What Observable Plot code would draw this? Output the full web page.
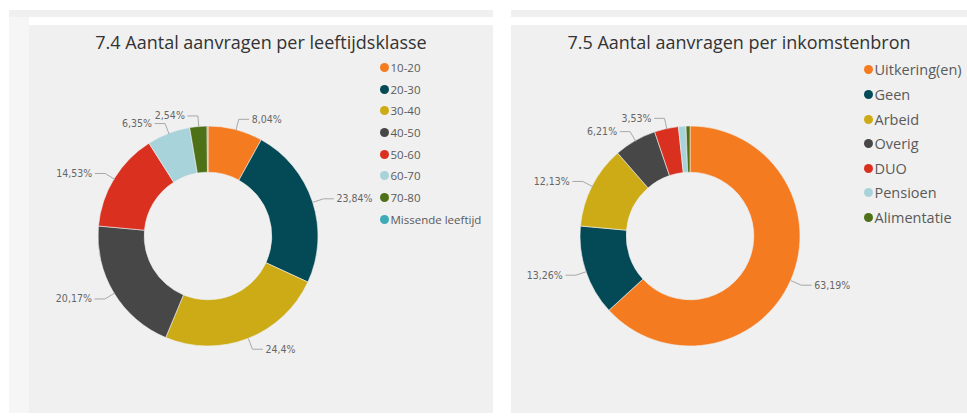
<!DOCTYPE html>
<html>
<head>
<meta charset="utf-8">
<script src="https://cdn.jsdelivr.net/npm/d3@7"></script>
<script src="https://cdn.jsdelivr.net/npm/@observablehq/plot@0.6"></script>
<style>
  html, body { margin: 0; padding: 0; background: #ffffff; }
  body { width: 967px; height: 417px; position: relative; overflow: hidden; font-family: "Open Sans", "Noto Sans", sans-serif; }
  .strip { position: absolute; }
  .panel { position: absolute; background: #f0f0f0; overflow: hidden; }
  .title { position: absolute; left: 0; top: 0; width: 100%; height: 33px; text-align: center; font-size: 18px; line-height: 33px; color: #333; padding-top: 1px; }
  .plotbox { position: absolute; left: 0; top: 33px; }
  .legend { position: absolute; color: #5a5a5a; }
  .legend .row { display: flex; align-items: center; white-space: nowrap; }
  .legend .dot { border-radius: 50%; flex: none; }
</style>
</head>
<body>
<div class="strip" style="left:9px;top:10px;width:484px;height:7px;background:#f0f0f0"></div>
<div class="strip" style="left:9px;top:17px;width:20px;height:396px;background:#f6f6f6"></div>
<div class="strip" style="left:511px;top:10px;width:456px;height:7px;background:#f0f0f0"></div>
<div class="panel" id="left" style="left:29px;top:25px;width:464px;height:388px"></div>
<div class="panel" id="right" style="left:511px;top:25px;width:456px;height:388px"></div>
<script>
// ---- data ----
const leeftijdTitle = "7.4 Aantal aanvragen per leeftijdsklasse";
const leeftijdCategories = ["10-20", "20-30", "30-40", "40-50", "50-60", "60-70", "70-80", "Missende leeftijd"];
const leeftijdValues = [8.04, 23.84, 24.4, 20.17, 14.53, 6.35, 2.54, 0.13];
const leeftijdColors = ["#f47b20", "#034a56", "#cdab16", "#474747", "#d9301f", "#a9d3da", "#4e7118", "#3eaab6"];

const inkomenTitle = "7.5 Aantal aanvragen per inkomstenbron";
const inkomenCategories = ["Uitkering(en)", "Geen", "Arbeid", "Overig", "DUO", "Pensioen", "Alimentatie"];
const inkomenValues = [63.19, 13.26, 12.13, 6.21, 3.53, 1.1, 0.58];
const inkomenColors = ["#f47b20", "#034a56", "#cdab16", "#474747", "#d9301f", "#a9d3da", "#4e7118"];

const fmt = v => String(v).replace(".", ",") + "%";

function donutPanel(el, {title, categories, values, colors, width, legend}) {
  const panel = d3.select(el);
  panel.append("div").attr("class", "title").text(title);

  const R = 110, innerRatio = 0.58, cx = 179, cy = 178, H = 355;
  const total = d3.sum(values);
  const rows = categories.map((c, i) => ({category: c, value: values[i], color: colors[i]}));
  const pie = d3.pie().value(d => d.value).sort(null)(rows);
  pie.forEach(p => { p.mid = (p.startAngle + p.endAngle) / 2; });

  // leader lines & labels (in scale units, radius = 1)
  const labelled = pie.filter(p => p.data.value / total > 0.02);
  const leaders = [];
  const labels = [];
  const hx = 10 / R;
  labelled.forEach(p => {
    const s = Math.sin(p.mid), c = Math.cos(p.mid);
    const side = s >= 0 ? 1 : -1;
    const x1 = s * 1.0, y1 = c * 1.0;
    const x2 = s * 1.1, y2 = c * 1.1;
    const x3 = x2 + side * hx;
    leaders.push({k: p.data.category, x: x1, y: y1});
    leaders.push({k: p.data.category, x: x2, y: y2});
    leaders.push({k: p.data.category, x: x3, y: y2});
    labels.push({x: x3, y: y2, text: fmt(p.data.value), anchor: side > 0 ? "start" : "end"});
  });

  const arcs = (index, scales, values, dimensions, context) => {
    const X = scales.x, Y = scales.y;
    const x0 = X(0), y0 = Y(0), r = X(1) - X(0);
    const arc = d3.arc().innerRadius(r * innerRatio).outerRadius(r);
    const g = d3.create("svg:g").attr("transform", `translate(${x0},${y0})`);
    g.selectAll("path").data(pie).join("path")
      .attr("d", arc)
      .attr("fill", d => d.data.color)
      .attr("stroke", "#f0f0f0")
      .attr("stroke-width", 0.6);
    return g.node();
  };

  const labelFont = "'DejaVu Sans Condensed', 'DejaVu Sans', sans-serif";
  const chart = Plot.plot({
    width, height: H,
    style: {background: "transparent", overflow: "visible"},
    x: {domain: [-1, 1], range: [cx - R, cx + R], axis: null},
    y: {domain: [-1, 1], range: [cy + R, cy - R], axis: null},
    marks: [
      arcs,
      Plot.line(leaders, {x: "x", y: "y", z: "k", stroke: "#a8a8a8", strokeWidth: 1}),
      Plot.text(labels.filter(d => d.anchor === "start"), {x: "x", y: "y", text: "text", textAnchor: "start", dx: 3, fill: "#666", fontSize: 10.5, fontFamily: labelFont}),
      Plot.text(labels.filter(d => d.anchor === "end"), {x: "x", y: "y", text: "text", textAnchor: "end", dx: -3, fill: "#666", fontSize: 10.5, fontFamily: labelFont})
    ]
  });
  panel.append("div").attr("class", "plotbox").node().appendChild(chart);

  // legend
  const lg = panel.append("div").attr("class", "legend")
    .style("left", (legend.dotX - legend.r) + "px")
    .style("top", (legend.firstY - legend.step / 2) + "px")
    .style("font-size", legend.fontSize + "px");
  const row = lg.selectAll("div.row").data(rows).join("div").attr("class", "row")
    .style("height", legend.step + "px");
  row.append("span").attr("class", "dot")
    .style("width", 2 * legend.r + "px").style("height", 2 * legend.r + "px")
    .style("background", d => d.color)
    .style("margin-right", legend.gap + "px");
  row.append("span").text(d => d.category);
}

donutPanel(document.getElementById("left"), {
  title: leeftijdTitle, categories: leeftijdCategories, values: leeftijdValues, colors: leeftijdColors,
  width: 464,
  legend: {dotX: 355, firstY: 42.5, step: 21.7, r: 4.5, gap: 2, fontSize: 11.5}
});
donutPanel(document.getElementById("right"), {
  title: inkomenTitle, categories: inkomenCategories, values: inkomenValues, colors: inkomenColors,
  width: 456,
  legend: {dotX: 357, firstY: 45, step: 24.6, r: 4.5, gap: 2, fontSize: 14.5}
});
</script>
</body>
</html>
